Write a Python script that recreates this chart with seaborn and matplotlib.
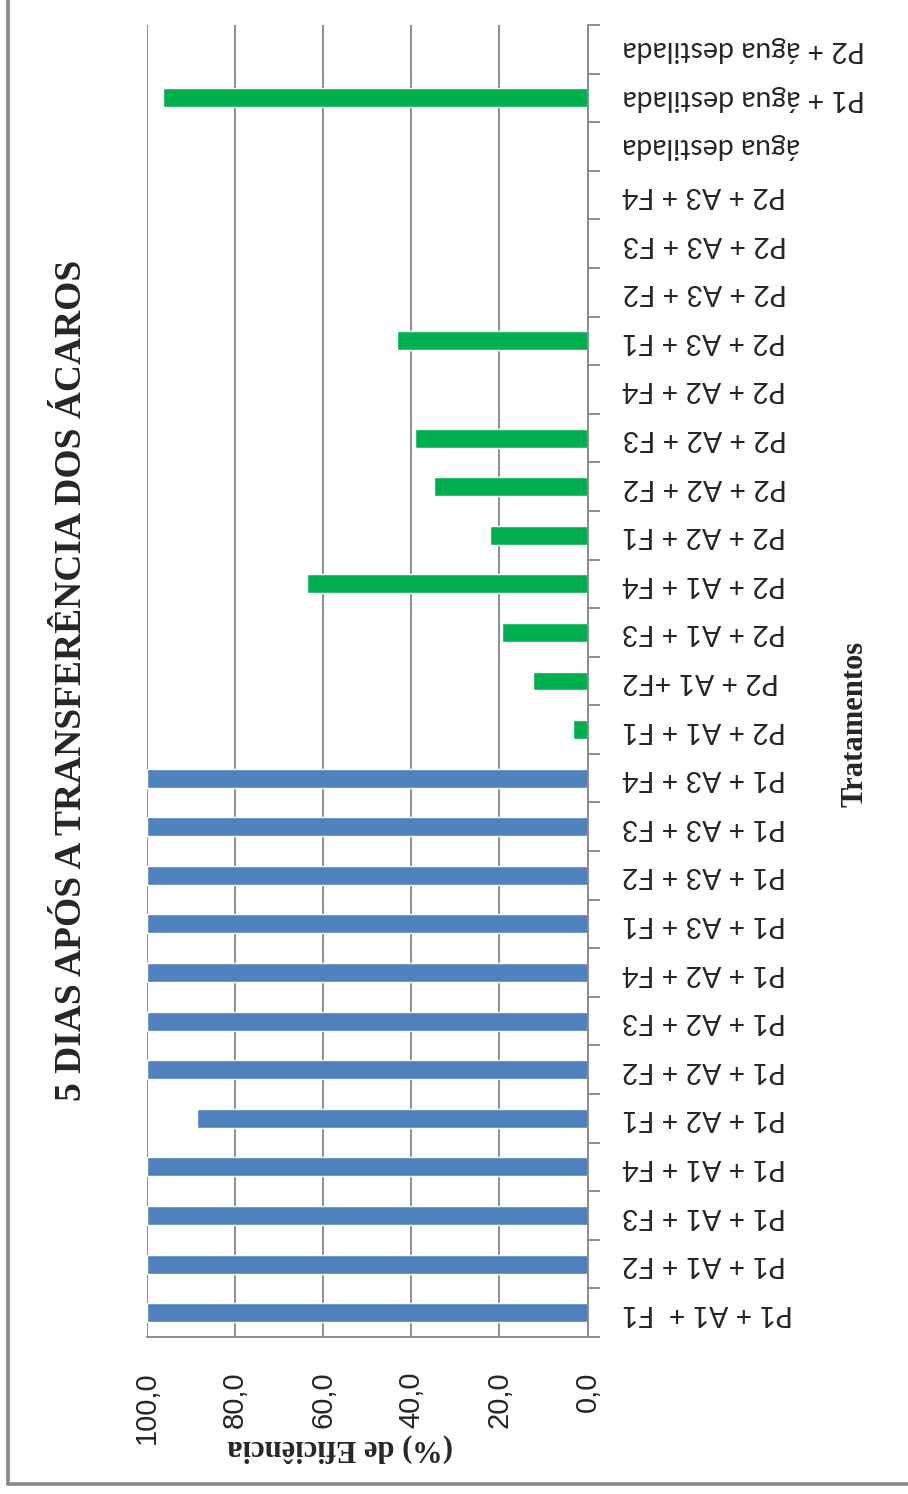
import matplotlib
matplotlib.use("Agg")
import matplotlib.pyplot as plt
from matplotlib.lines import Line2D
from matplotlib.ticker import FuncFormatter, FixedLocator
import numpy as np
import pandas as pd
import seaborn as sns

# Treatments, bottom to top
tratamentos = [
    "P1 + A1 +  F1", "P1 + A1 + F2", "P1 + A1 + F3", "P1 + A1 + F4",
    "P1 + A2 + F1", "P1 + A2 + F2", "P1 + A2 + F3", "P1 + A2 + F4",
    "P1 + A3 + F1", "P1 + A3 + F2", "P1 + A3 + F3", "P1 + A3 + F4",
    "P2 + A1 + F1", "P2 + A1 +F2", "P2 + A1 + F3", "P2 + A1 + F4",
    "P2 + A2 + F1", "P2 + A2 + F2", "P2 + A2 + F3", "P2 + A2 + F4",
    "P2 + A3 + F1", "P2 + A3 + F2", "P2 + A3 + F3", "P2 + A3 + F4",
    "água destilada", "P1 + água destilada", "P2 + água destilada",
]
# Efficiency (%) five days after mite transfer
eficiencia = [
    100.0, 100.0, 100.0, 100.0,
    88.7, 100.0, 100.0, 100.0,
    100.0, 100.0, 100.0, 100.0,
    3.2, 12.3, 19.3, 63.6,
    22.1, 34.9, 39.2, 0.0,
    43.2, 0.0, 0.0, 0.0,
    0.0, 96.4, 0.0,
]
series = ["Série 1"] * 12 + ["Série 2"] * 15
cores = {"Série 1": "#4F81BD", "Série 2": "#00B050"}
valores_eixo = [0, 20, 40, 60, 80, 100]

titulo = "5 DIAS APÓS A TRANSFERÊNCIA DOS ÁCAROS"
rotulo_cat = "Tratamentos"
rotulo_val = "(%) de Eficiência"

sns.set_style("white")
plt.rcParams["font.family"] = ["Liberation Sans", "DejaVu Sans"]

W, H = 908, 1494
fig = plt.figure(figsize=(W / 100, H / 100), dpi=100)
fig.patch.set_facecolor("white")

x0, x1 = 147, 587.5
y0, y1 = 25, 1337
ax = fig.add_axes([x0 / W, 1 - y1 / H, (x1 - x0) / W, (y1 - y0) / H])

df = pd.DataFrame({"Tratamento": tratamentos, "Eficiencia": eficiencia, "Serie": series})
sns.barplot(data=df, x="Eficiencia", y="Tratamento", hue="Serie", order=tratamentos,
            palette=cores, orient="h", width=0.39, dodge=False, saturation=1,
            errorbar=None, legend=False, ax=ax, zorder=3)

grey = "#8c8c8c"
ax.set_xlim(100, 0)
ax.set_ylim(-0.5, len(tratamentos) - 0.5)
ax.set_xlabel("")
ax.set_ylabel("")

# value axis (bottom)
ax.xaxis.set_major_locator(FixedLocator(valores_eixo))
ax.xaxis.set_major_formatter(FuncFormatter(lambda v, p: f"{v:.1f}".replace(".", ",")))
ax.tick_params(axis="x", which="major", direction="out", length=8, width=1.4,
               color=grey, pad=17, labelsize=21, labelrotation=90)
ax.grid(axis="x", color=grey, linewidth=1.4, zorder=0)
ax.grid(axis="y", visible=False)

# category axis (right side)
ax.yaxis.tick_right()
ax.set_yticks(range(len(tratamentos)))
ax.set_yticklabels(tratamentos)
ax.yaxis.set_minor_locator(FixedLocator(np.arange(-0.5, len(tratamentos), 1.0)))
ax.tick_params(axis="y", which="major", length=0, pad=25, right=True, left=False)
ax.tick_params(axis="y", which="minor", direction="out", length=8.6, width=1.4,
               color=grey, right=True, left=False)
for lab in ax.get_yticklabels():
    lab.set_rotation(180)
    lab.set_ha("left")
    lab.set_va("center")
    lab.set_family(["Lato", "DejaVu Sans"])
    lab.set_fontsize(20.5)

for s in ["left", "top"]:
    ax.spines[s].set_visible(False)
for s in ["right", "bottom"]:
    ax.spines[s].set_color(grey)
    ax.spines[s].set_linewidth(1.4)
    ax.spines[s].set_zorder(4)

serif = ["Liberation Serif", "DejaVu Serif"]
fig.text(72 / W, 1 - 680 / H, titulo, rotation=90, ha="center", va="center",
         fontsize=27, fontweight="bold", family=serif)
fig.text(855 / W, 1 - 724 / H, rotulo_cat, rotation=90, ha="center", va="center",
         fontsize=22, fontweight="bold", family=serif)
fig.text(340 / W, 1 - 1448 / H, rotulo_val, rotation=180, ha="center", va="center",
         fontsize=22, fontweight="bold", family=serif)

# chart frame (left and bottom edges)
fig.add_artist(Line2D([7.5 / W, 7.5 / W], [1 - 1483.5 / H, 1.0], transform=fig.transFigure,
                      color="#888888", linewidth=2.6))
fig.add_artist(Line2D([7.5 / W, 1.0], [1 - 1483.5 / H, 1 - 1483.5 / H], transform=fig.transFigure,
                      color="#888888", linewidth=2.6))

fig.savefig("out.png", dpi=100, facecolor="white")
